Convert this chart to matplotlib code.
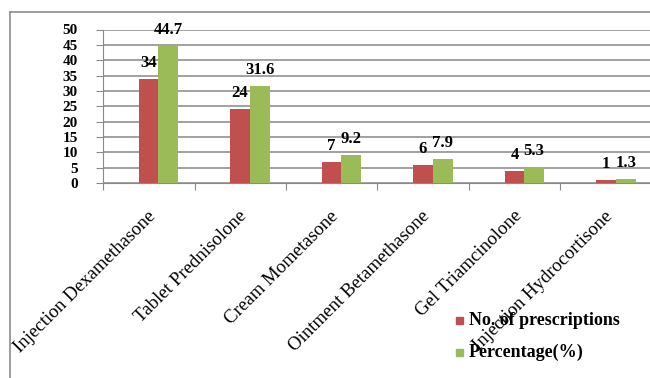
import matplotlib
matplotlib.use("Agg")
import matplotlib.pyplot as plt
import numpy as np
from matplotlib.patches import Rectangle
from matplotlib.lines import Line2D

categories = ["Injection Dexamethasone", "Tablet Prednisolone", "Cream Mometasone",
              "Ointment Betamethasone", "Gel Triamcinolone", "Injection Hydrocortisone"]
prescriptions = [34, 24, 7, 6, 4, 1]
percentage = [44.7, 31.6, 9.2, 7.9, 5.3, 1.3]
yticks = [0, 5, 10, 15, 20, 25, 30, 35, 40, 45, 50]
series_names = ["No. of prescriptions", "Percentage(%)"]

RED = "#C0504D"
GREEN = "#9BBB59"
W, H = 650, 378

plt.rcParams['font.family'] = ['Liberation Serif', 'DejaVu Serif']
fig = plt.figure(figsize=(6.5, 3.78), dpi=100)

# outer chart border (left and top)
fig.add_artist(Line2D([9.5 / W, 9.5 / W], [0, 1 - 11.5 / H], transform=fig.transFigure,
                      color="#8c8c8c", lw=1.2))
fig.add_artist(Line2D([9.5 / W, 1], [1 - 11.5 / H, 1 - 11.5 / H], transform=fig.transFigure,
                      color="#8c8c8c", lw=1.2))

left, right = 103 / W, 652 / W
bottom, top = (H - 183) / H, (H - 29.5) / H
ax = fig.add_axes([left, bottom, right - left, top - bottom])

x = np.arange(len(categories))
bw = 0.215
off = 0.105
b1 = ax.bar(x + off - bw / 2, prescriptions, bw, color=RED, zorder=3)
b2 = ax.bar(x + off + bw / 2, percentage, bw, color=GREEN, zorder=3)

ax.set_xlim(-0.5, len(categories) - 0.5)
ax.set_ylim(0, 50)
ax.set_yticks(yticks)
ax.set_yticklabels([str(t) for t in yticks], fontsize=11, fontweight="bold")
ax.yaxis.grid(True, color="#9a9a9a", lw=1.3, zorder=0)
ax.set_axisbelow(True)

for s in ["top", "right"]:
    ax.spines[s].set_visible(False)
ax.spines["left"].set_color("#8a8a8a")
ax.spines["bottom"].set_color("#8a8a8a")
ax.tick_params(axis="y", length=5, color="#8a8a8a", pad=13)

# category ticks at boundaries
ax.set_xticks(np.arange(len(categories) + 1) - 0.5, minor=False)
ax.set_xticklabels([])
ax.tick_params(axis="x", length=5, color="#8a8a8a")
for i, c in enumerate(categories):
    ax.text(i - 0.02, -8, c, rotation=45, ha="right", va="top", rotation_mode="anchor",
            fontsize=13.6, transform=ax.transData)

for rect, v in zip(b1, prescriptions):
    ax.text(rect.get_x() + rect.get_width() / 2, v + 2.6, f"{v}", ha="center", va="bottom",
            fontsize=12, fontweight="bold")
for rect, v in zip(b2, percentage):
    ax.text(rect.get_x() + rect.get_width() / 2, v + 2.6, f"{v}", ha="center", va="bottom",
            fontsize=12, fontweight="bold")

# legend
for j, (name, col) in enumerate(zip(series_names, [RED, GREEN])):
    yc = 1 - (320.5 + 32 * j) / H
    fig.add_artist(Rectangle((456 / W, yc - 3.5 / H), 7 / W, 7 / H, transform=fig.transFigure,
                             color=col))
    fig.text(469 / W, yc, name, ha="left", va="center", fontsize=13, fontweight="bold")

fig.savefig("out.png", dpi=100)
